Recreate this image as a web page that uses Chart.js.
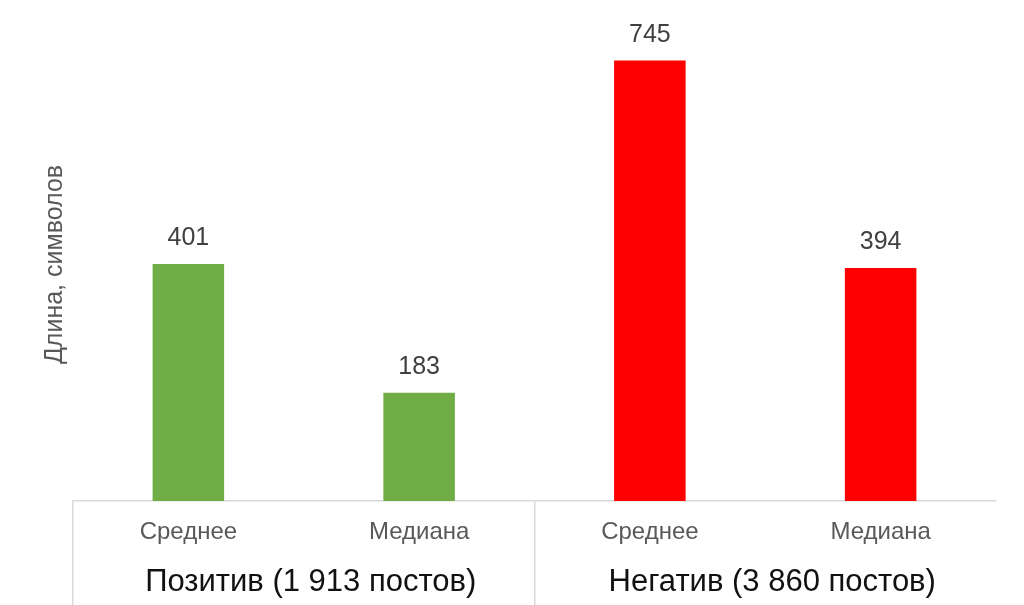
<!DOCTYPE html>
<html>
<head>
<meta charset="utf-8">
<script src="https://cdn.jsdelivr.net/npm/chart.js@4"></script>
<style>
  html, body { margin: 0; padding: 0; background: #ffffff; }
  #wrap { width: 1024px; height: 605px; }
</style>
</head>
<body>
<div id="wrap"><canvas id="c" width="1024" height="605"></canvas></div>
<script>
const categories = ['Среднее', 'Медиана', 'Среднее', 'Медиана'];
const groups = ['Позитив (1 913 постов)', 'Негатив (3 860 постов)'];
const values = [401, 183, 745, 394];
const yTitle = 'Длина, символов';

const FONT = "'Liberation Sans', Arial, sans-serif";
const barColors = ['#70ad47', '#70ad47', '#ff0000', '#ff0000'];

const valueLabels = {
  id: 'valueLabels',
  afterDatasetsDraw(chart) {
    const ctx = chart.ctx;
    const meta = chart.getDatasetMeta(0);
    ctx.save();
    ctx.font = '25px ' + FONT;
    ctx.fillStyle = '#404040';
    ctx.textAlign = 'center';
    ctx.textBaseline = 'alphabetic';
    meta.data.forEach((bar, i) => {
      ctx.fillText(String(chart.data.datasets[0].data[i]), bar.x, bar.y - 19);
    });
    ctx.restore();
  }
};

new Chart(document.getElementById('c'), {
  type: 'bar',
  data: {
    labels: categories,
    datasets: [{
      data: values,
      backgroundColor: barColors,
      borderWidth: 0,
      barPercentage: 0.31,
      categoryPercentage: 1.0,
      xAxisID: 'x',
      yAxisID: 'y'
    }]
  },
  options: {
    responsive: false,
    animation: false,
    layout: { padding: { left: 36, right: 28, top: 28, bottom: 0 } },
    plugins: { legend: { display: false }, tooltip: { enabled: false } },
    scales: {
      x: {
        type: 'category',
        position: 'bottom',
        weight: 0,
        offset: true,
        grid: {
          offset: true,
          drawOnChartArea: false,
          drawTicks: true,
          tickLength: 104,
          lineWidth: 1.5,
          color: (c) => (c.index % 2 === 0 ? '#d9d9d9' : 'rgba(0,0,0,0)')
        },
        border: { display: true, color: '#d9d9d9', width: 1.5 },
        ticks: {
          padding: -87,
          maxRotation: 0,
          autoSkip: false,
          color: '#595959',
          font: { family: FONT, size: 24 }
        },
        afterFit: (s) => { s.height = 50; }
      },
      x2: {
        type: 'category',
        position: 'bottom',
        weight: 1,
        labels: groups,
        offset: true,
        grid: { display: false, drawOnChartArea: false },
        border: { display: false },
        ticks: {
          padding: 5,
          labelOffset: 7,
          maxRotation: 0,
          autoSkip: false,
          color: '#111111',
          font: { family: FONT, size: 31 }
        },
        afterFit: (s) => { s.height = 54; }
      },
      y: {
        min: 0,
        max: 800,
        grid: { display: false },
        border: { display: false },
        ticks: { display: false },
        title: {
          display: true,
          text: yTitle,
          color: '#595959',
          font: { family: FONT, size: 25 },
          padding: { top: 4, bottom: 4 }
        },
        afterFit: (s) => { s.width = 37; }
      }
    }
  },
  plugins: [valueLabels]
});
</script>
</body>
</html>
